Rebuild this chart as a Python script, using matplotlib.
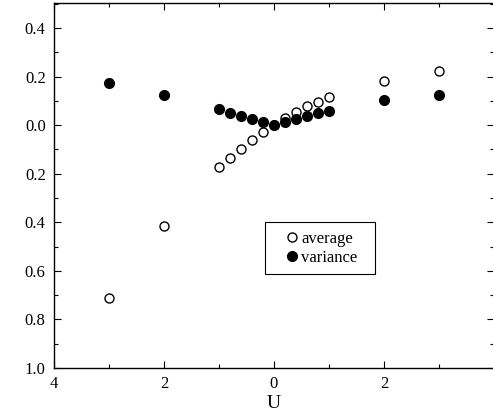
import numpy as np
import matplotlib
matplotlib.use("Agg")
import matplotlib.pyplot as plt
from matplotlib.patches import Rectangle
from matplotlib.ticker import FixedLocator, FixedFormatter, MultipleLocator

# data
u_vals = [-3, -2, -1, -0.8, -0.6, -0.4, -0.2, 0, 0.2, 0.4, 0.6, 0.8, 1.0, 2, 3]
average = [-0.713, -0.414, -0.173, -0.135, -0.097, -0.062, -0.030, 0.0,
           0.030, 0.054, 0.077, 0.096, 0.114, 0.183, 0.223]
variance = [0.173, 0.125, 0.066, 0.052, 0.039, 0.027, 0.011, 0.0,
            0.014, 0.026, 0.038, 0.048, 0.060, 0.103, 0.124]

x_ticks = [-4, -2, 0, 2]
x_ticklabels = ["4", "2", "0", "2"]
y_ticks = [-1.0, -0.8, -0.6, -0.4, -0.2, 0.0, 0.2, 0.4]
y_ticklabels = ["1.0", "0.8", "0.6", "0.4", "0.2", "0.0", "0.2", "0.4"]

plt.rcParams['font.family'] = ['Liberation Serif', 'DejaVu Serif']

fig = plt.figure(figsize=(4.93, 4.20), dpi=100)
ax = fig.add_axes([54 / 493, 1 - 368 / 420, 440 / 493, 365 / 420])

ax.plot(u_vals, average, 'o', ms=6.5, mfc='white', mec='black', mew=1.0,
        label='average', linestyle='none')
ax.plot(u_vals, variance, 'o', ms=7, mfc='black', mec='black', mew=1.0,
        label='variance', linestyle='none')

ax.set_xlim(-4, 4)
ax.set_ylim(-1.0, 0.503)

ax.xaxis.set_major_locator(FixedLocator(x_ticks))
ax.xaxis.set_major_formatter(FixedFormatter(x_ticklabels))
ax.xaxis.set_minor_locator(MultipleLocator(1))
ax.yaxis.set_major_locator(FixedLocator(y_ticks))
ax.yaxis.set_major_formatter(FixedFormatter(y_ticklabels))
ax.yaxis.set_minor_locator(MultipleLocator(0.1))

ax.tick_params(which='both', direction='in', top=True, right=True,
               labelsize=12, width=0.8)
ax.tick_params(which='major', length=5, pad=6)
ax.tick_params(which='minor', length=3)

for s in ax.spines.values():
    s.set_linewidth(1.0)

ax.set_xlabel("U", fontsize=14, labelpad=2)

# legend box drawn separately (wide side padding like the original)
ax.add_patch(Rectangle((0.4795, 0.2575), 0.25, 0.1425, transform=ax.transAxes,
                       facecolor='white', edgecolor='black', lw=0.8, zorder=4))
leg = ax.legend(loc='center left', bbox_to_anchor=(0.5295, 0.328), fontsize=12,
                handlelength=0.6, handletextpad=0.25, borderpad=0,
                borderaxespad=0, labelspacing=0.15, frameon=False)
leg.set_zorder(5)

fig.savefig("out.png", dpi=100)
